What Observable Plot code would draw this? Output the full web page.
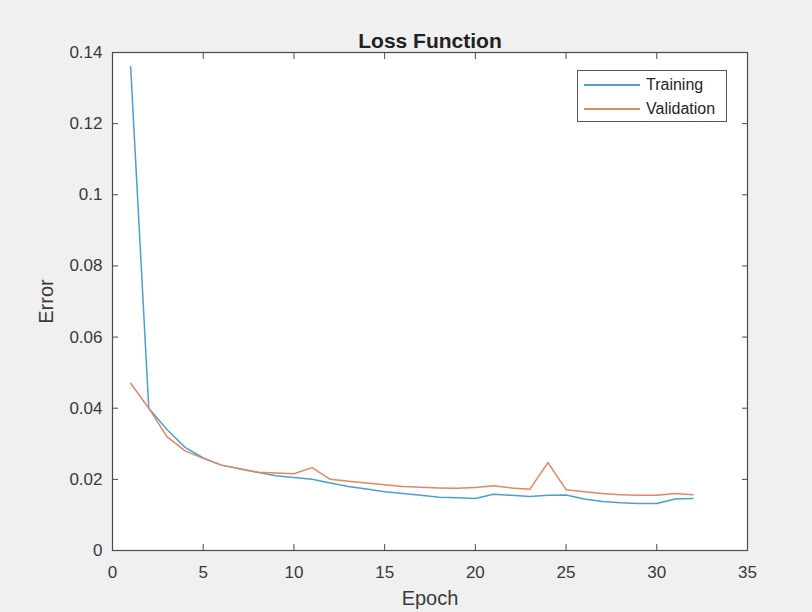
<!DOCTYPE html>
<html>
<head>
<meta charset="utf-8">
<script src="https://cdn.jsdelivr.net/npm/d3@7"></script>
<script src="https://cdn.jsdelivr.net/npm/@observablehq/plot@0.6"></script>
<style>
  body { margin: 0; background: #f0f0f0; }
  #wrap { position: relative; width: 812px; height: 612px; background: #f0f0f0; font-family: "Liberation Sans", Arial, sans-serif; }
  #legend { position: absolute; left: 577px; top: 70px; width: 148px; height: 50px; background: #fff; border: 1px solid #555; font-size: 16px; color: #262626; }
  .row { position: absolute; left: 6px; display: flex; align-items: center; height: 20px; }
  .sw { display: inline-block; width: 56px; height: 2px; margin-right: 6px; }
</style>
</head>
<body>
<div id="wrap"></div>
<script>
const epochs = [1,2,3,4,5,6,7,8,9,10,11,12,13,14,15,16,17,18,19,20,21,22,23,24,25,26,27,28,29,30,31,32];
const training = [0.136,0.040,0.034,0.029,0.026,0.024,0.023,0.022,0.021,0.0205,0.020,0.019,0.018,0.0173,0.0165,0.016,0.0155,0.015,0.0148,0.0146,0.0158,0.0155,0.0152,0.0155,0.0156,0.0145,0.0138,0.0134,0.0132,0.0132,0.0145,0.0146];
const validation = [0.047,0.040,0.032,0.028,0.0259,0.024,0.023,0.022,0.0218,0.0216,0.0233,0.020,0.0195,0.019,0.0185,0.018,0.0178,0.0176,0.0175,0.0177,0.0182,0.0176,0.0172,0.0247,0.0171,0.0165,0.016,0.0157,0.0155,0.0155,0.016,0.0157];
const seriesNames = ["Training", "Validation"];
const seriesColors = ["#4aa0d6", "#e8845e"];
const xTicks = [0,5,10,15,20,25,30,35];
const yTicks = [0,0.02,0.04,0.06,0.08,0.1,0.12,0.14];
const titleText = "Loss Function";

const rows = [];
epochs.forEach((e, i) => {
  rows.push({epoch: e, value: training[i], series: seriesNames[0]});
  rows.push({epoch: e, value: validation[i], series: seriesNames[1]});
});

const axisColor = "#4a4a4a";
const chart = Plot.plot({
  width: 812,
  height: 612,
  marginLeft: 112,
  marginRight: 65,
  marginTop: 52,
  marginBottom: 62,
  style: {background: "transparent", fontFamily: "Liberation Sans, Arial, sans-serif", fontSize: "17px", color: "#262626"},
  x: {domain: [0, 35], ticks: xTicks},
  y: {domain: [0, 0.14], ticks: yTicks},
  color: {domain: seriesNames, range: seriesColors},
  marks: [
    Plot.frame({fill: "white", stroke: "none"}),
    Plot.line(rows, {x: "epoch", y: "value", z: "series", stroke: "series", strokeWidth: 1.5}),
    Plot.frame({stroke: axisColor, strokeWidth: 1.2}),
    Plot.axisX(xTicks, {anchor: "bottom", tickSize: -6, tickPadding: 21, stroke: axisColor, fill: "#3a3a3a", fontSize: 17, label: "Epoch", labelAnchor: "center", labelOffset: 54, labelArrow: "none", tickFormat: d => String(d)}),
    Plot.axisX(xTicks, {anchor: "top", tickSize: -6, stroke: axisColor, tickFormat: () => "", label: null}),
    Plot.axisY(yTicks, {anchor: "left", tickSize: -6, tickPadding: 16, stroke: axisColor, fill: "#3a3a3a", fontSize: 17, label: "Error", labelAnchor: "center", labelOffset: 74, labelArrow: "none", tickFormat: d => String(d)}),
    Plot.axisY(yTicks, {anchor: "right", tickSize: -6, stroke: axisColor, tickFormat: () => "", label: null}),
    Plot.text([titleText], {frameAnchor: "top", dy: -19, fontWeight: "bold", fontSize: 21, fill: "#222"})
  ]
});

// enlarge axis titles
chart.querySelectorAll("g[aria-label='x-axis label'] text, g[aria-label='y-axis label'] text").forEach(t => t.setAttribute("font-size", "20"));

const wrap = document.getElementById("wrap");
wrap.appendChild(chart);
const legend = document.createElement("div");
legend.id = "legend";
seriesNames.forEach((name, i) => {
  const row = document.createElement("div");
  row.className = "row";
  row.style.top = (4 + i * 24) + "px";
  const sw = document.createElement("span");
  sw.className = "sw";
  sw.style.background = seriesColors[i];
  const t = document.createElement("span");
  t.textContent = name;
  row.appendChild(sw);
  row.appendChild(t);
  legend.appendChild(row);
});
wrap.appendChild(legend);
</script>
</body>
</html>
